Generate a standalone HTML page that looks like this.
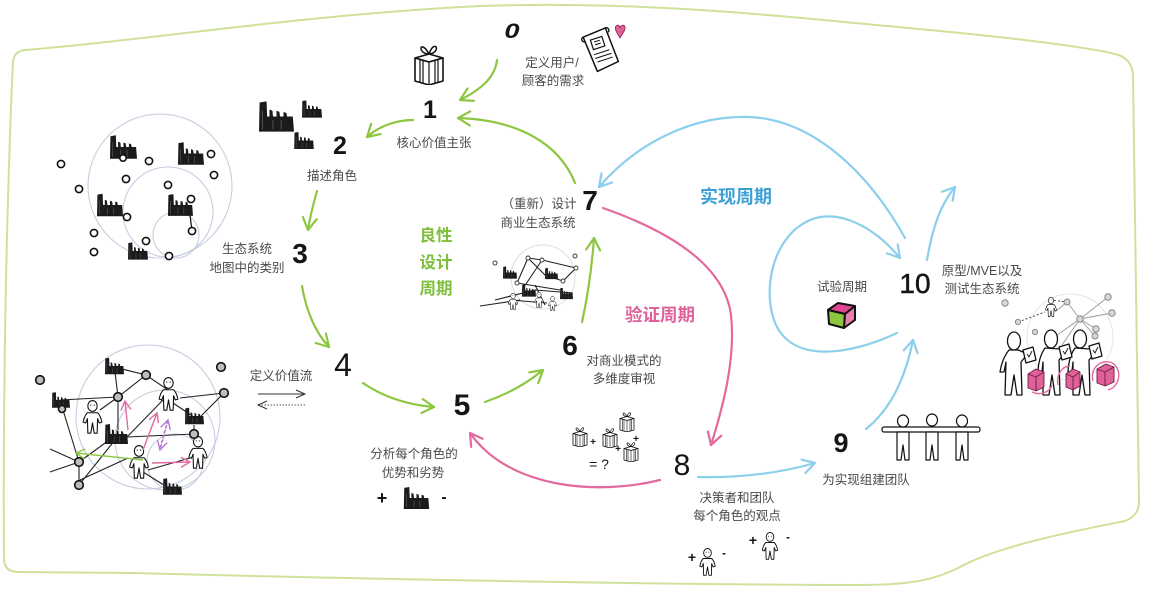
<!DOCTYPE html>
<html><head><meta charset="utf-8">
<style>
html,body{margin:0;padding:0;background:#fff;}
svg{display:block;}
.t{font-family:"Liberation Sans","Noto Sans CJK SC",sans-serif;font-size:12.5px;fill:#4a4a4a;text-anchor:middle;}
.n{font-family:"Liberation Sans",sans-serif;fill:#151515;text-anchor:middle;}
.h{font-family:"Liberation Sans","Noto Sans CJK SC",sans-serif;font-weight:bold;text-anchor:middle;}
.ln{stroke:#222;stroke-width:1.1;fill:none;}
.dt{fill:#fff;stroke:#111;stroke-width:1.6;}
.gd{fill:#bdbdbd;stroke:#111;stroke-width:1.6;}
.sd{fill:#d8d8d8;stroke:#888;stroke-width:1;}
</style></head><body>
<svg width="1152" height="599" viewBox="0 0 1152 599" xmlns="http://www.w3.org/2000/svg">
<defs>
<marker id="mg" markerUnits="userSpaceOnUse" markerWidth="18" markerHeight="18" refX="14" refY="9" orient="auto"><path d="M2,2 L14,9 L2,16" fill="none" stroke="#8dc641" stroke-width="2.2" stroke-linecap="round" stroke-linejoin="round"/></marker>
<marker id="mp" markerUnits="userSpaceOnUse" markerWidth="18" markerHeight="18" refX="14" refY="9" orient="auto"><path d="M2,2 L14,9 L2,16" fill="none" stroke="#e3699f" stroke-width="2.2" stroke-linecap="round" stroke-linejoin="round"/></marker>
<marker id="mb" markerUnits="userSpaceOnUse" markerWidth="18" markerHeight="18" refX="14" refY="9" orient="auto"><path d="M2,2 L14,9 L2,16" fill="none" stroke="#8ccfec" stroke-width="2.2" stroke-linecap="round" stroke-linejoin="round"/></marker>
<marker id="mk" markerUnits="userSpaceOnUse" markerWidth="12" markerHeight="12" refX="10" refY="6" orient="auto"><path d="M1,2 L10,6 L1,10" fill="none" stroke="#333" stroke-width="1"/></marker>
<marker id="msp" markerUnits="userSpaceOnUse" markerWidth="12" markerHeight="12" refX="10" refY="6" orient="auto"><path d="M1,1 L10,6 L1,11" fill="none" stroke="#e3699f" stroke-width="1.4"/></marker>
<marker id="msg" markerUnits="userSpaceOnUse" markerWidth="12" markerHeight="12" refX="10" refY="6" orient="auto"><path d="M1,1 L10,6 L1,11" fill="none" stroke="#8dc641" stroke-width="1.4"/></marker>
<marker id="msv" markerUnits="userSpaceOnUse" markerWidth="12" markerHeight="12" refX="10" refY="6" orient="auto"><path d="M1,1 L10,6 L1,11" fill="none" stroke="#b07ad0" stroke-width="1.4"/></marker>
<symbol id="fac" viewBox="0 0 30 26">
<path d="M0,26 L0.5,1 L6.5,0 L7,13 L9,13 L9,7 L11.5,8 L12,13 L15,13 L15,8 L17.5,9 L18,13 L21,13 L21,9 L23.5,10 L24,13 L29,13 L30,26 Z" fill="#1b1b1b"/>
<path d="M3,8 V24 M12,16 V24 M19,16 V24" stroke="#555" stroke-width="0.8"/>
</symbol>
<symbol id="per" viewBox="0 0 24 40">
<ellipse cx="12" cy="7" rx="5.5" ry="6.3" fill="#fff" stroke="#111" stroke-width="1.3"/>
<path d="M6,15 C4,17 2,21 1,26 L4,27 L6,22 L6.5,39 L10,39 L12,27 L14,39 L17.5,39 L18,22 L20,27 L23,26 C22,21 20,17 18,15 Z" fill="#fff" stroke="#111" stroke-width="1.3" stroke-linejoin="round"/>
<circle cx="10" cy="6" r="0.7" fill="#111"/><circle cx="14" cy="6" r="0.7" fill="#111"/>
</symbol>
<symbol id="gift" viewBox="0 0 32 44">
<path d="M16,13 C10,2 6,6 9,10 C11,13 16,13 16,13 Z M16,13 C20,2 25,5 23,9 C21,13 16,13 16,13 Z M16,13 L11,18 M16,13 L21,18" fill="#fff" stroke="#111" stroke-width="1.5"/>
<path d="M2,17 L16,13 L30,17 L16,21 Z" fill="#fff" stroke="#111" stroke-width="1.5" stroke-linejoin="round"/>
<path d="M2,17 L16,21 L30,17 L30,40 L16,44 L2,40 Z" fill="#fff" stroke="#111" stroke-width="1.6" stroke-linejoin="round"/>
<path d="M16,21 V44 M7,18.5 V41.5 M10,19.5 V42.5 M22,19.5 V42.5 M25,18.5 V41.5" stroke="#111" stroke-width="1.2"/>
</symbol>
</defs>

<!-- border -->
<path d="M25,50 C150,40 300,15 480,6 C650,0 800,18 960,33 C1050,42 1100,50 1115,54 Q1132,58 1133,75 C1135,200 1137,380 1139,500 Q1140,515 1125,521 C1080,530 1000,545 960,567 C935,580 910,585 860,585 C700,585 400,580 133,573 L18,572 Q5,572 4,560 C3,450 5,300 8,200 C10,130 12,80 13,62 Q14,51 25,50 Z" fill="#fff" stroke="#cfe29c" stroke-width="2"/>

<!-- ===== arrows ===== -->
<g fill="none" stroke-width="2.2" stroke-linecap="round">
<path d="M497,60 C495,78 480,90 460,100" stroke="#8dc641" marker-end="url(#mg)"/>
<path d="M575,183 C560,145 520,120 458,118" stroke="#8dc641" marker-end="url(#mg)"/>
<path d="M413,120 C395,120 378,127 367,137" stroke="#8dc641" marker-end="url(#mg)"/>
<path d="M317,191 C313,205 310,217 308,230" stroke="#8dc641" marker-end="url(#mg)"/>
<path d="M302,286 C306,310 315,332 329,347" stroke="#8dc641" marker-end="url(#mg)"/>
<path d="M363,383 C385,398 410,405 434,407" stroke="#8dc641" marker-end="url(#mg)"/>
<path d="M485,402 C505,395 525,385 543,370" stroke="#8dc641" marker-end="url(#mg)"/>
<path d="M582,322 C588,295 592,265 594,238" stroke="#8dc641" marker-end="url(#mg)"/>

<path d="M603,208 C680,235 725,270 731,315 C736,360 722,410 711,445" stroke="#e3699f" marker-end="url(#mp)"/>
<path d="M660,480 C600,495 510,490 470,433" stroke="#e3699f" marker-end="url(#mp)"/>

<path d="M905,238 C870,175 815,120 750,117 C690,115 635,145 599,187" stroke="#8ccfec" marker-end="url(#mb)"/>
<path d="M698,477 C740,478 780,473 815,463" stroke="#8ccfec" marker-end="url(#mb)"/>
<path d="M866,429 C890,410 905,380 913,340" stroke="#8ccfec" marker-end="url(#mb)"/>
<path d="M897,333 C850,355 790,365 774,320 C762,285 775,235 810,220 C840,208 875,228 900,258" stroke="#8ccfec" marker-end="url(#mb)"/>
<path d="M927,260 C932,230 940,205 955,187" stroke="#8ccfec" marker-end="url(#mb)"/>
</g>

<!-- ===== numbers ===== -->
<text class="n" x="0" y="0" font-size="21" font-style="italic" font-weight="bold" transform="translate(512,38) scale(1.3,1)">0</text>
<text class="n" x="430" y="118" font-size="25" font-weight="bold">1</text>
<text class="n" x="340" y="154" font-size="25" font-weight="bold">2</text>
<text class="n" x="300" y="263" font-size="28" font-weight="bold">3</text>
<text class="n" x="343" y="376" font-size="32">4</text>
<text class="n" x="462" y="415" font-size="30" font-weight="bold">5</text>
<text class="n" x="570" y="355" font-size="28" font-weight="bold">6</text>
<text class="n" x="590" y="210" font-size="28" font-weight="bold">7</text>
<text class="n" x="682" y="475" font-size="30">8</text>
<text class="n" x="841" y="452" font-size="27" font-weight="bold">9</text>
<text class="n" x="915" y="293" font-size="28" stroke="#151515" stroke-width="0.5">10</text>

<!-- ===== labels ===== -->
<text class="t" x="552" y="67">定义用户/</text>
<text class="t" x="553" y="85">顾客的需求</text>
<text class="t" x="434" y="147">核心价值主张</text>
<text class="t" x="332" y="180">描述角色</text>
<text class="t" x="247" y="253">生态系统</text>
<text class="t" x="247" y="272">地图中的类别</text>
<text class="t" x="281" y="380">定义价值流</text>
<text class="t" x="414" y="458">分析每个角色的</text>
<text class="t" x="413" y="477">优势和劣势</text>
<text class="t" x="624" y="365">对商业模式的</text>
<text class="t" x="624" y="383">多维度审视</text>
<text class="t" x="539" y="208">（重新）设计</text>
<text class="t" x="538" y="227">商业生态系统</text>
<text class="t" x="737" y="502">决策者和团队</text>
<text class="t" x="737" y="520">每个角色的观点</text>
<text class="t" x="866" y="484">为实现组建团队</text>
<text class="t" x="982" y="275">原型/MVE以及</text>
<text class="t" x="982" y="293">测试生态系统</text>
<text class="t" x="842" y="291">试验周期</text>

<text class="h" x="436" y="241" font-size="16.5" fill="#7fbf3c">良性</text>
<text class="h" x="436" y="268" font-size="16.5" fill="#7fbf3c">设计</text>
<text class="h" x="436" y="294" font-size="16.5" fill="#7fbf3c">周期</text>
<text class="h" x="660" y="321" font-size="17.5" fill="#e0609a">验证周期</text>
<text class="h" x="736" y="203" font-size="18" fill="#3d9fd6">实现周期</text>

<!-- ===== icons top ===== -->
<use href="#gift" x="413" y="41" width="32" height="44"/>
<g transform="translate(584,28) rotate(-18 18 22)">
<path d="M4,4 L28,2 L30,38 L7,41 Z" fill="#fff" stroke="#111" stroke-width="1.5" stroke-linejoin="round"/>
<path d="M4,4 C1,4 1,9 5,9 M28,2 C31,2 32,6 29,7" fill="none" stroke="#111" stroke-width="1.3"/>
<rect x="10" y="9" width="12" height="10" fill="none" stroke="#111" stroke-width="1.2"/>
<path d="M13,12 H19 M13,15 H19 M9,24 H25 M9,28 H26 M10,32 H26" stroke="#111" stroke-width="1"/>
</g>
<path d="M620,38 C617,33 614,29 616,26 C618,24 620,26 620,28 C621,25 624,24 625,27 C626,30 622,34 620,38 Z" fill="#e0609a" stroke="#8a2050" stroke-width="0.8"/>

<!-- step 2 factories -->
<use href="#fac" x="259" y="100" width="35" height="33"/>
<use href="#fac" x="302" y="100" width="20" height="18"/>
<use href="#fac" x="294" y="132" width="20" height="17"/>

<!-- ===== step 3 cluster ===== -->
<g fill="none" stroke="#c6cde0" stroke-width="1.1">
<circle cx="160" cy="186" r="72"/>
<circle cx="168" cy="212" r="45"/>
<circle cx="176" cy="235" r="23"/>
</g>
<line x1="190" y1="215" x2="192" y2="231" stroke="#111" stroke-width="1.2"/>
<use href="#fac" x="110" y="135" width="27" height="24"/>
<use href="#fac" x="178" y="142" width="26" height="23"/>
<use href="#fac" x="97" y="193" width="26" height="24"/>
<use href="#fac" x="168" y="193" width="25" height="24"/>
<use href="#fac" x="128" y="242" width="20" height="18"/>
<g class="dt">
<circle cx="61" cy="164" r="3.6"/><circle cx="79" cy="189" r="3.6"/><circle cx="94" cy="233" r="3.6"/>
<circle cx="94" cy="252" r="3.6"/><circle cx="149" cy="161" r="3.6"/><circle cx="126" cy="179" r="3.6"/>
<circle cx="211" cy="154" r="3.6"/><circle cx="214" cy="175" r="3.6"/><circle cx="168" cy="185" r="3.6"/>
<circle cx="127" cy="217" r="3.6"/><circle cx="191" cy="199" r="3.6"/><circle cx="192" cy="231" r="3.6"/>
<circle cx="146" cy="241" r="3.6"/><circle cx="169" cy="256" r="3.6"/><circle cx="123" cy="158" r="3.2"/>
</g>

<!-- ===== step 4 network ===== -->
<g fill="none" stroke="#c6cde0" stroke-width="1.1">
<circle cx="148" cy="417" r="72"/>
<circle cx="165" cy="440" r="50"/>
<circle cx="175" cy="462" r="28"/>
</g>
<g class="ln">
<path d="M114,367 L146,375 M146,375 L118,397 M146,375 L168,390 M115,372 L118,397 M60,400 L118,397 M63,410 L79,462 M79,462 L79,485 M79,485 L115,440 M50,449 L79,462 M50,472 L79,462 M79,462 L112,438 M118,397 L118,430 M118,397 L100,410 M127,437 L163,400 M127,437 L194,434 M180,398 L224,393 M173,403 L191,415 M224,393 L200,417 M194,425 L194,434 M194,434 L197,445 M143,472 L167,487 M80,480 L128,458 M148,470 L190,458"/>
</g>
<use href="#fac" x="105" y="357" width="19" height="18"/>
<use href="#fac" x="52" y="391" width="18" height="18"/>
<use href="#fac" x="105" y="423" width="23" height="22"/>
<use href="#fac" x="185" y="407" width="19" height="18"/>
<use href="#fac" x="163" y="478" width="19" height="17"/>
<use href="#per" x="82" y="400" width="21" height="34"/>
<use href="#per" x="157" y="377" width="23" height="34"/>
<use href="#per" x="128" y="445" width="22" height="34"/>
<use href="#per" x="187" y="436" width="22" height="33"/>
<g class="gd">
<circle cx="40" cy="380" r="4.3"/><circle cx="146" cy="375" r="4.3"/><circle cx="221" cy="367" r="4.3"/>
<circle cx="224" cy="393" r="4.3"/><circle cx="118" cy="397" r="4.3"/><circle cx="62" cy="409" r="3.5"/>
<circle cx="194" cy="434" r="4.3"/><circle cx="79" cy="462" r="4.3"/><circle cx="79" cy="485" r="4.3"/>
</g>
<g fill="none" stroke-width="1.4">
<path d="M128,430 L125,401" stroke="#e3699f" marker-end="url(#msp)"/>
<path d="M143,450 L157,413" stroke="#e3699f" marker-end="url(#msp)"/>
<path d="M152,463 L190,462" stroke="#e3699f" marker-end="url(#msp)"/>
<path d="M160,448 L168,420" stroke="#b07ad0" stroke-dasharray="3,2" marker-end="url(#msv)"/>
<path d="M168,420 L160,450" stroke="#b07ad0" stroke-dasharray="3,2" marker-end="url(#msv)"/>
<path d="M143,460 L76,453" stroke="#8dc641" marker-end="url(#msg)"/>
</g>
<!-- value flow arrows -->
<path d="M258,394 L305,394" stroke="#333" stroke-width="1" marker-end="url(#mk)"/>
<path d="M305,405 L258,405" stroke="#555" stroke-width="1" stroke-dasharray="1.5,1.5" marker-end="url(#mk)"/>

<!-- step 5 -->
<text class="n" x="382" y="504" font-size="18" font-weight="bold">+</text>
<use href="#fac" x="403" y="487" width="27" height="22"/>
<text class="n" x="444" y="502" font-size="16" font-weight="bold">-</text>

<!-- ===== step 6 mini network ===== -->
<circle cx="543" cy="277" r="32" fill="none" stroke="#ddd" stroke-width="1"/>
<g class="ln" stroke-width="0.8">
<path d="M528,258 L542,260 L576,268 M528,258 L517,283 M542,260 L522,290 M528,258 L545,275 L563,281 L576,268 M517,283 L560,290 M495,300 L535,290 L573,293 M510,300 L547,303 M535,285 L545,305 M480,306 L520,300"/>
</g>
<use href="#fac" x="503" y="265" width="14" height="15"/>
<use href="#fac" x="545" y="267" width="13" height="13"/>
<use href="#fac" x="522" y="283" width="14" height="15"/>
<use href="#fac" x="560" y="287" width="13" height="13"/>
<use href="#per" x="507" y="293" width="12" height="17"/>
<use href="#per" x="533" y="292" width="12" height="16"/>
<use href="#per" x="547" y="296" width="11" height="15"/>
<g fill="#fff" stroke="#333" stroke-width="0.9">
<circle cx="495" cy="263" r="2"/><circle cx="528" cy="258" r="2"/><circle cx="542" cy="260" r="2"/>
<circle cx="575" cy="256" r="2"/><circle cx="576" cy="268" r="2"/><circle cx="563" cy="281" r="2"/><circle cx="517" cy="283" r="2"/>
</g>

<!-- gifts cluster -->
<use href="#gift" x="572" y="425" width="16" height="22"/>
<text class="n" x="593" y="445" font-size="10" font-weight="bold">+</text>
<use href="#gift" x="602" y="426" width="16" height="22"/>
<use href="#gift" x="619" y="410" width="16" height="22"/>
<text class="n" x="636" y="442" font-size="10" font-weight="bold">+</text>
<text class="n" x="618" y="452" font-size="10" font-weight="bold">+</text>
<use href="#gift" x="623" y="440" width="16" height="22"/>
<text class="n" x="599" y="469" font-size="14">= ?</text>

<!-- step 8 people -->
<text class="n" x="692" y="562" font-size="14" font-weight="bold">+</text>
<use href="#per" x="698" y="548" width="19" height="28"/>
<text class="n" x="724" y="557" font-size="12" font-weight="bold">-</text>
<text class="n" x="753" y="545" font-size="14" font-weight="bold">+</text>
<use href="#per" x="760" y="532" width="20" height="28"/>
<text class="n" x="788" y="541" font-size="12" font-weight="bold">-</text>

<!-- step 9 team -->
<g fill="#fff" stroke="#111" stroke-width="1.2" stroke-linejoin="round">
<rect x="882" y="427" width="98" height="5" rx="2"/>
<path d="M897,432 L897,460 L901,460 L903,445 L905,460 L909,460 L909,432 Z"/>
<path d="M926,432 L926,460 L930,460 L932,445 L934,460 L938,460 L938,432 Z"/>
<path d="M956,432 L956,460 L960,460 L962,445 L964,460 L968,460 L968,432 Z"/>
<ellipse cx="903" cy="421" rx="5.5" ry="6"/>
<ellipse cx="932" cy="420" rx="5.5" ry="6"/>
<ellipse cx="962" cy="421" rx="5.5" ry="6"/>
</g>

<!-- cube -->
<g stroke="#111" stroke-width="2" stroke-linejoin="round">
<path d="M828,310 L838,303 L855,306 L845,314 Z" fill="#e0458f"/>
<path d="M828,310 L845,314 L844,328 L829,324 Z" fill="#8dc641"/>
<path d="M845,314 L855,306 L855,320 L844,328 Z" fill="#ea7db0"/>
</g>

<!-- ===== step 10 scene ===== -->
<circle cx="1070" cy="337" r="43" fill="none" stroke="#e4e4e4" stroke-width="1"/>
<g stroke="#999" stroke-width="0.9" fill="none">
<path d="M1080,319 L1108,297 M1080,319 L1112,313 M1080,319 L1096,329 M1080,319 L1095,336 M1080,319 L1067,302 M1080,319 L1050,340 M1080,319 L1062,345 M1067,302 L1055,312"/>
<path d="M1018,322 L1045,312 M1050,300 L1067,302" stroke-dasharray="2,2" stroke="#333"/>
</g>
<use href="#per" x="1045" y="297" width="12" height="20"/>
<g class="sd">
<circle cx="1005" cy="303" r="3.2"/><circle cx="1108" cy="297" r="3.2"/><circle cx="1112" cy="313" r="3.2"/>
<circle cx="1096" cy="329" r="3.2"/><circle cx="1095" cy="336" r="3"/><circle cx="1080" cy="319" r="3.2"/>
<circle cx="1067" cy="302" r="3"/><circle cx="1018" cy="322" r="2.6"/><circle cx="1035" cy="332" r="2.6"/>
</g>
<g fill="#fff" stroke="#111" stroke-width="1.3" stroke-linejoin="round">
<path d="M1009,350 C1004,356 1001,365 1000,372 L1004,372 L1006,362 L1005,395 L1011,395 L1014,375 L1017,395 L1022,395 L1021,362 L1026,356 L1023,352 L1018,350 Z"/>
<ellipse cx="1014" cy="341" rx="6.5" ry="9"/>
<path d="M1045,348 C1040,355 1038,365 1038,372 L1042,372 L1043,362 L1043,395 L1049,395 L1052,375 L1055,395 L1060,395 L1059,360 L1064,354 L1060,349 Z"/>
<ellipse cx="1051" cy="339" rx="6.5" ry="9"/>
<path d="M1075,348 C1070,355 1068,365 1068,372 L1072,372 L1073,362 L1073,395 L1079,395 L1082,375 L1085,395 L1090,395 L1089,360 L1094,354 L1090,349 Z"/>
<ellipse cx="1080" cy="339" rx="6.5" ry="9"/>
<path d="M1023,350 L1033,347 L1036,360 L1026,363 Z"/>
<path d="M1059,347 L1069,344 L1072,357 L1062,360 Z"/>
<path d="M1089,346 L1099,343 L1102,356 L1092,359 Z"/>
</g>
<g stroke="#111" stroke-width="0.9" fill="none">
<path d="M1027,354 L1029,357 L1032,351 M1063,351 L1065,354 L1068,348 M1093,350 L1095,353 L1098,347"/>
</g>
<g fill="#e0609a" stroke="#6a1d40" stroke-width="0.9" stroke-linejoin="round">
<path d="M1028,374 L1036,369 L1044,372 L1044,387 L1036,391 L1028,388 Z"/>
<path d="M1066,374 L1073,369 L1080,372 L1080,386 L1073,390 L1066,387 Z"/>
<path d="M1097,369 L1106,364 L1114,367 L1114,382 L1105,386 L1097,383 Z"/>
<path d="M1028,374 L1036,377 L1044,372 M1036,377 V391 M1066,374 L1073,377 L1080,372 M1073,377 V390 M1097,369 L1105,372 L1114,367 M1105,372 V386" fill="none"/>
</g>
<g fill="none" stroke="#e3699f" stroke-width="1.4">
<path d="M1093,381 C1090,368 1100,360 1110,362 C1122,366 1122,386 1108,390"/>
<path d="M1058,385 C1056,375 1062,366 1070,366"/>
<path d="M1032,392 C1040,396 1050,392 1052,385"/>
</g>
</svg>
</body></html>
